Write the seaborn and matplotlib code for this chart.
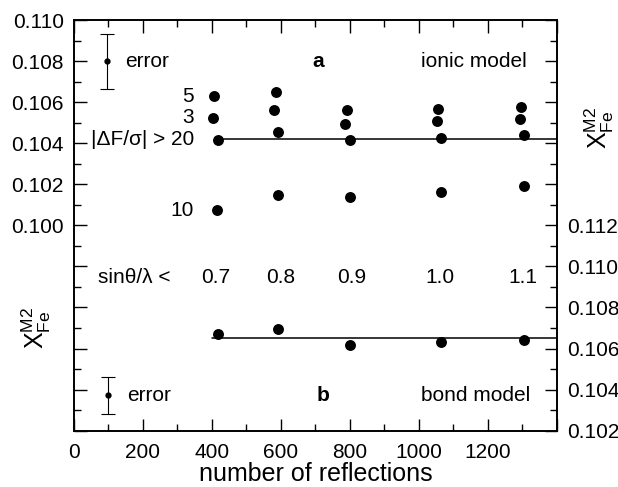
import numpy as np
import pandas as pd
import matplotlib
matplotlib.use("Agg")
import matplotlib.pyplot as plt
from matplotlib.ticker import MultipleLocator, FuncFormatter
import seaborn as sns

# ---------------- data ----------------
# panel a (ionic model, left axis): refinements with different |dF/sigma| cut-offs
cut_labels = ["5", "3", "|ΔF/σ| > 20", "10"]
a_x_cut5 = [407, 586, 793, 1055, 1297]
a_y_cut5 = [0.10629, 0.10648, 0.10561, 0.10569, 0.10577]
a_x_cut3 = [403, 581, 787, 1051, 1293]
a_y_cut3 = [0.10524, 0.10562, 0.10494, 0.10510, 0.10520]
a_x_cut20 = [419, 593, 801, 1064, 1305]
a_y_cut20 = [0.10416, 0.10453, 0.10416, 0.10423, 0.10442]
a_x_cut10 = [416, 593, 800, 1063, 1305]
a_y_cut10 = [0.10073, 0.10150, 0.10137, 0.10161, 0.10194]
a_line_x = [419, 1400]
a_line_y = 0.10420
a_err_x, a_err_y, a_err = 96, 0.10798, 0.00134

# panel b (bond model, right axis)
b_x = [419, 593, 801, 1063, 1305]
b_y = [0.10669, 0.10695, 0.10617, 0.10631, 0.10644]
b_line_x = [400, 1400]
b_line_y = 0.10649
b_err_x, b_err_y, b_err = 100, 0.10373, 0.00090

# sin(theta)/lambda limits
sin_labels = ["0.7", "0.8", "0.9", "1.0", "1.1"]
sin_x = [411, 600, 806, 1062, 1300]

xlim = (0, 1400)
ylim_left = (0.090, 0.110)
ylim_right = (0.102, 0.122)

# ---------------- style ----------------
sns.set_theme(style="ticks")
plt.rcParams["font.family"] = ["Liberation Sans", "DejaVu Sans"]
plt.rcParams["mathtext.fontset"] = "custom"
plt.rcParams["mathtext.rm"] = "Liberation Sans"
plt.rcParams["mathtext.it"] = "Liberation Sans:italic"
plt.rcParams["axes.linewidth"] = 1.2
for key in ["axes.edgecolor", "text.color", "axes.labelcolor", "xtick.color", "ytick.color"]:
    plt.rcParams[key] = "black"

fig = plt.figure(figsize=(6.18, 4.87), dpi=100)
ax = fig.add_axes([73.7 / 618, 1 - 430.7 / 487, (557 - 73.7) / 618, (430.7 - 20) / 487])
ax2 = ax.twinx()

FS = 15

df_a = pd.DataFrame({
    "n": a_x_cut5 + a_x_cut3 + a_x_cut20 + a_x_cut10,
    "x": a_y_cut5 + a_y_cut3 + a_y_cut20 + a_y_cut10,
})
df_b = pd.DataFrame({"n": b_x, "x": b_y})

sns.scatterplot(data=df_a, x="n", y="x", ax=ax, color="black", s=62,
                edgecolor="black", linewidth=0, zorder=3)
sns.scatterplot(data=df_b, x="n", y="x", ax=ax2, color="black", s=62,
                edgecolor="black", linewidth=0, zorder=3)

ax.plot(a_line_x, [a_line_y] * 2, color="black", lw=1.1)
ax2.plot(b_line_x, [b_line_y] * 2, color="black", lw=1.1)

ax.errorbar([a_err_x], [a_err_y], yerr=[a_err], fmt="o", ms=3.5, color="black",
            elinewidth=0.8, capsize=5, capthick=0.8)
ax2.errorbar([b_err_x], [b_err_y], yerr=[b_err], fmt="o", ms=3.5, color="black",
             elinewidth=0.8, capsize=5, capthick=0.8)

# axes limits and ticks
ax.set_xlim(*xlim)
ax.set_ylim(*ylim_left)
ax2.set_ylim(*ylim_right)

ax.xaxis.set_major_locator(MultipleLocator(200))
ax.xaxis.set_minor_locator(MultipleLocator(100))
ax.yaxis.set_major_locator(MultipleLocator(0.002))
ax.yaxis.set_minor_locator(MultipleLocator(0.001))
ax2.yaxis.set_major_locator(MultipleLocator(0.002))
ax2.yaxis.set_minor_locator(MultipleLocator(0.001))

ax.yaxis.set_major_formatter(FuncFormatter(lambda v, p: f"{v:.3f}" if v > 0.0995 else ""))
ax2.yaxis.set_major_formatter(FuncFormatter(lambda v, p: f"{v:.3f}" if v < 0.1125 else ""))
ax.xaxis.set_major_formatter(FuncFormatter(lambda v, p: f"{v:.0f}" if v < 1300 else ""))

for a in (ax, ax2):
    a.tick_params(which="major", direction="in", length=9, width=1.0, labelsize=FS, pad=7)
    a.tick_params(which="minor", direction="in", length=5, width=1.0)
ax.tick_params(axis="x", which="major", pad=9)
ax.tick_params(which="both", top=True, right=False)
ax2.tick_params(which="both", right=True, left=False)
for s in list(ax.spines.values()) + list(ax2.spines.values()):
    s.set_linewidth(1.2)
    s.set_color("black")

ax.set_xlabel("number of reflections", fontsize=18, labelpad=0)
ax.set_ylabel(r"$\mathregular{X_{Fe}^{M2}}$", fontsize=18, rotation=90)
ax.yaxis.set_label_coords(-0.043, 0.25)
ax2.set_ylabel(r"$\mathregular{X_{Fe}^{M2}}$", fontsize=18, rotation=90)
ax2.yaxis.set_label_coords(1.053, 0.737)

# annotations panel a
ax.text(149, 0.108, "error", fontsize=FS, va="center", ha="left")
ax.text(708, 0.108, "a", fontsize=FS, fontweight="bold", va="center", ha="center")
ax.text(1311, 0.108, "ionic model", fontsize=FS, va="center", ha="right")
for lab, yv in zip(cut_labels, [a_y_cut5[0], a_y_cut3[0], a_y_cut20[0], a_y_cut10[0]]):
    ax.text(348, yv, lab, fontsize=FS, va="center", ha="right")

ax.text(70, 0.09745, "sinθ/λ <", fontsize=FS, va="center", ha="left")
for lab, xv in zip(sin_labels, sin_x):
    ax.text(xv, 0.09745, lab, fontsize=FS, va="center", ha="center")

# annotations panel b
ax2.text(154, b_err_y, "error", fontsize=FS, va="center", ha="left")
ax2.text(723, b_err_y, "b", fontsize=FS, fontweight="bold", va="center", ha="center")
ax2.text(1322, b_err_y, "bond model", fontsize=FS, va="center", ha="right")

fig.savefig("out.png", dpi=100)
